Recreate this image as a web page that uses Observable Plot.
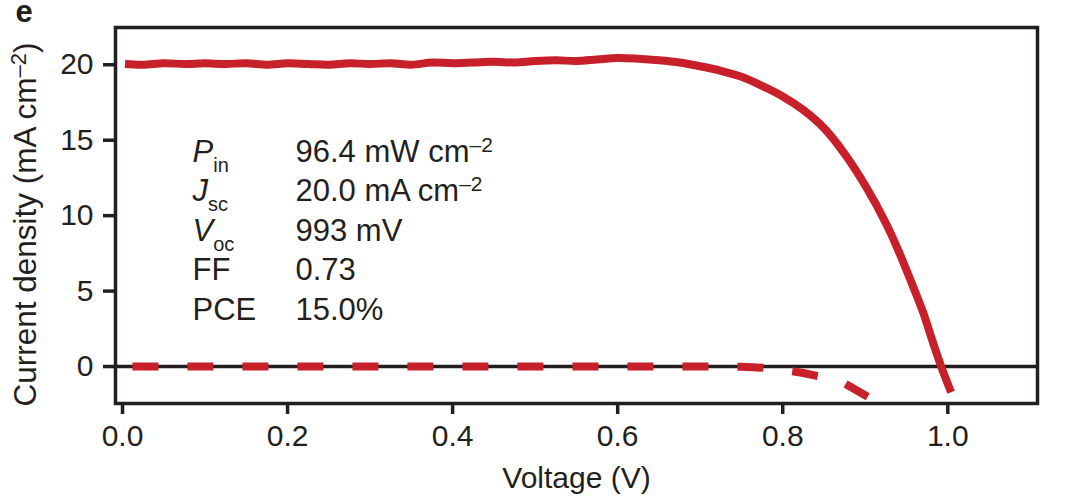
<!DOCTYPE html>
<html>
<head>
<meta charset="utf-8">
<script src="https://cdn.jsdelivr.net/npm/d3@7"></script>
<script src="https://cdn.jsdelivr.net/npm/@observablehq/plot@0.6"></script>
<style>
  html, body { margin: 0; padding: 0; background: #fff; }
</style>
</head>
<body>
<div id="chart"></div>
<script>
// ---- data ----
const lightVoltage = [0.003, 0.025, 0.05, 0.075, 0.1, 0.125, 0.15, 0.175, 0.2, 0.225, 0.25, 0.275, 0.3, 0.325, 0.35, 0.375, 0.4, 0.425, 0.45, 0.475, 0.5, 0.525, 0.55, 0.575, 0.6, 0.625, 0.65, 0.675, 0.7, 0.725, 0.75, 0.775, 0.8, 0.825, 0.85, 0.875, 0.9, 0.925, 0.94, 0.955, 0.97, 0.982, 0.992, 1.004];
const lightCurrent = [20.05, 20.0, 20.1, 20.05, 20.1, 20.05, 20.1, 20.0, 20.1, 20.05, 20.0, 20.1, 20.05, 20.1, 20.0, 20.15, 20.1, 20.15, 20.2, 20.15, 20.25, 20.3, 20.25, 20.35, 20.45, 20.4, 20.3, 20.15, 19.9, 19.6, 19.2, 18.6, 17.9, 17.0, 15.8, 14.1, 12.0, 9.5, 7.7, 5.7, 3.6, 1.6, 0.0, -1.7];

const darkVoltage = [0.012, 0.1, 0.2, 0.3, 0.4, 0.5, 0.6, 0.7, 0.75, 0.775, 0.8, 0.825, 0.85, 0.875, 0.903];
const darkCurrent = [0, 0, 0, 0, 0, 0, 0, 0, -0.02, -0.08, -0.22, -0.43, -0.72, -1.12, -2.0];

const xTicks = [0, 0.2, 0.4, 0.6, 0.8, 1.0];
const yTicks = [0, 5, 10, 15, 20];

const paramNames = ["P", "J", "V", "FF", "PCE"];
const paramSubs = ["in", "sc", "oc", "", ""];
const paramItalic = [true, true, true, false, false];
const paramValues = ["96.4 mW cm", "20.0 mA cm", "993 mV", "0.73", "15.0%"];
const paramValueSups = ["–2", "–2", "", "", ""];

const panelLabel = "e";
const xLabel = "Voltage (V)";
const yLabelMain = "Current density (mA cm";
const yLabelSup = "–2";
const yLabelEnd = ")";

// ---- tables built from the arrays ----
const light = lightVoltage.map((v, i) => ({v, j: lightCurrent[i]}));
const dark = darkVoltage.map((v, i) => ({v, j: darkCurrent[i]}));

const RED = "#c8202a";
const INK = "#231f20";
const FONT = "'Liberation Sans', Arial, Helvetica, sans-serif";

const plot = Plot.plot({
  width: 1067,
  height: 503,
  marginLeft: 115,
  marginRight: 30,
  marginTop: 27,
  marginBottom: 100,
  style: {fontFamily: FONT, fontSize: "30px", color: INK, background: "#fff"},
  x: {domain: [-0.0085, 1.1087]},
  y: {domain: [-2.45, 22.47]},
  marks: [
    Plot.axisX(xTicks, {tickSize: 11, tickPadding: 10, strokeWidth: 3.5, tickFormat: d3.format(".1f"), label: null, fontSize: 30, fill: INK}),
    Plot.axisY(yTicks, {tickSize: 12, tickPadding: 10, strokeWidth: 3.5, label: null, fontSize: 30, fill: INK}),
    Plot.ruleY([0], {stroke: INK, strokeWidth: 3.5}),
    Plot.line(dark, {x: "v", y: "j", stroke: RED, strokeWidth: 8, strokeDasharray: "26,29", strokeLinecap: "butt", strokeLinejoin: "round"}),
    Plot.line(light, {x: "v", y: "j", stroke: RED, strokeWidth: 8, strokeLinecap: "butt", strokeLinejoin: "round", curve: "catmull-rom"}),
    Plot.frame({stroke: INK, strokeWidth: 3.5}),
    Plot.text([paramNames.join("\n")], {frameAnchor: "top-left", dx: 77, dy: 106, lineAnchor: "top", textAnchor: "start", lineHeight: 1.275, fontSize: 31, fill: INK, className: "param-names"}),
    Plot.text([paramValues.join("\n")], {frameAnchor: "top-left", dx: 180, dy: 106, lineAnchor: "top", textAnchor: "start", lineHeight: 1.275, fontSize: 31, fill: INK, className: "param-values"}),
    Plot.text([xLabel], {frameAnchor: "bottom", dy: 84, lineAnchor: "bottom", textAnchor: "middle", fontSize: 30, fill: INK}),
    Plot.text([yLabelMain], {frameAnchor: "left", dx: -80, dy: 9, rotate: -90, lineAnchor: "bottom", textAnchor: "middle", fontSize: 31.5, fill: INK, className: "y-label"}),
    Plot.text([panelLabel], {frameAnchor: "top-left", dx: -100, dy: -6, lineAnchor: "bottom", textAnchor: "start", fontSize: 31, fontWeight: "bold", fill: INK})
  ]
});

const svg = d3.select(plot);

function lineNodes(cls) {
  const txt = svg.select("g." + cls + " text");
  const spans = txt.selectAll("tspan");
  return spans.size() ? spans : txt;
}

// names with italic letter + subscript
lineNodes("param-names").each(function(_, i) {
  const t = d3.select(this);
  t.text("");
  t.append("tspan").attr("font-style", paramItalic[i] ? "italic" : null).text(paramNames[i]);
  if (paramSubs[i]) t.append("tspan").attr("font-size", 20).attr("baseline-shift", -10).text(paramSubs[i]);
});

// values with superscripts
lineNodes("param-values").each(function(_, i) {
  const t = d3.select(this);
  t.text("");
  t.append("tspan").text(paramValues[i]);
  if (paramValueSups[i]) t.append("tspan").attr("font-size", 21).attr("baseline-shift", 10).text(paramValueSups[i]);
});

// y label superscript
const yl = svg.select("g.y-label text");
yl.text("");
yl.append("tspan").text(yLabelMain);
yl.append("tspan").attr("font-size", 22).attr("baseline-shift", 10).text(yLabelSup);
yl.append("tspan").text(yLabelEnd);

document.getElementById("chart").appendChild(plot);
</script>
</body>
</html>
